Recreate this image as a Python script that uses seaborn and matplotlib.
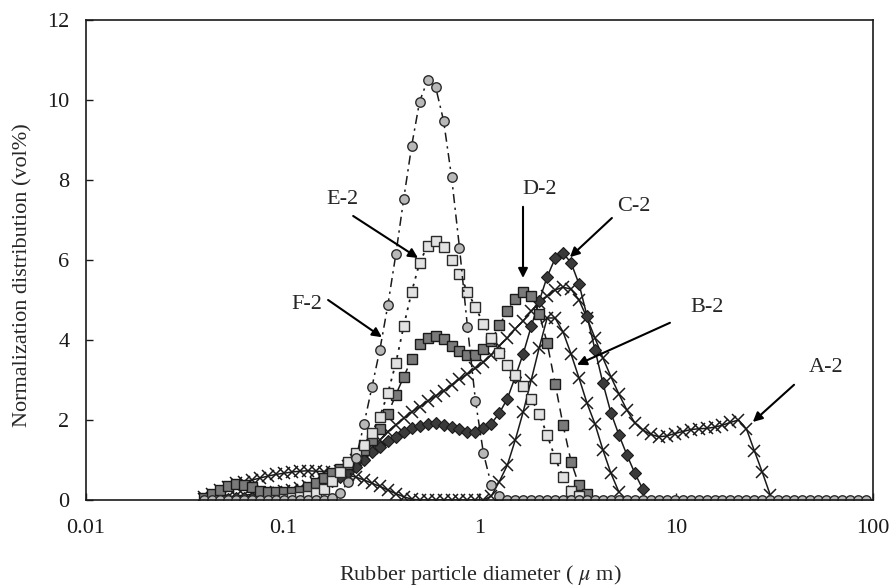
import matplotlib
matplotlib.use("Agg")
import matplotlib.pyplot as plt
import pandas as pd
import seaborn as sns

# Particle-size channels (um) of the analyser, 0.04 .. 92 um
diameter = [
    0.0400, 0.0439, 0.0482, 0.0529, 0.0581, 0.0638, 0.0700, 0.0769, 0.0844, 0.0926,
    0.1017, 0.1116, 0.1226, 0.1346, 0.1477, 0.1622, 0.1780, 0.1954, 0.2146, 0.2356,
    0.2586, 0.2839, 0.3117, 0.3421, 0.3756, 0.412, 0.452, 0.496, 0.545, 0.598,
    0.657, 0.721, 0.791, 0.869, 0.954, 1.047, 1.149, 1.261, 1.385, 1.520,
    1.669, 1.832, 2.010, 2.207, 2.423, 2.660, 2.920, 3.205, 3.519, 3.863,
    4.240, 4.655, 5.110, 5.610, 6.158, 6.760, 7.421, 8.147, 8.943, 9.817,
    10.78, 11.83, 12.99, 14.26, 15.65, 17.18, 18.86, 20.71, 22.73, 24.95,
    27.39, 30.07, 33.01, 36.24, 39.78, 43.67, 47.94, 52.62, 57.77, 63.41,
    69.61, 76.42, 83.89, 92.09,
]

# vol% per channel, each series starts at channel index *_start
a2_start = 0
a2 = [
    0.02, 0.04, 0.06, 0.08, 0.10, 0.12, 0.14, 0.16, 0.18, 0.20,
    0.23, 0.26, 0.30, 0.35, 0.42, 0.50, 0.60, 0.72, 0.85, 1.00,
    1.15, 1.30, 1.50, 1.71, 1.88, 2.04, 2.20, 2.33, 2.47, 2.60,
    2.73, 2.88, 3.02, 3.15, 3.29, 3.44, 3.63, 3.85, 4.05, 4.28,
    4.48, 4.72, 4.92, 5.10, 5.25, 5.32, 5.27, 5.00, 4.55, 4.05,
    3.55, 3.08, 2.65, 2.25, 1.93, 1.75, 1.64, 1.58, 1.60, 1.66,
    1.71, 1.76, 1.78, 1.79, 1.82, 1.87, 1.94, 2.00, 1.78, 1.23,
    0.69, 0.12,
]

b2_start = 0
b2 = [
    0.08, 0.15, 0.25, 0.33, 0.42, 0.46, 0.50, 0.55, 0.60, 0.64,
    0.67, 0.70, 0.72, 0.73, 0.72, 0.71, 0.69, 0.66, 0.62, 0.57,
    0.50, 0.42, 0.34, 0.25, 0.16, 0.08, 0.02, 0.0, 0.0, 0.0,
    0.0, 0.0, 0.0, 0.0, 0.0, 0.0, 0.10, 0.46, 0.87, 1.50,
    2.21, 3.00, 3.80, 4.55, 4.55, 4.20, 3.65, 3.05, 2.42, 1.90,
    1.25, 0.67, 0.20,
]

c2_start = 0
c2 = [
    0.0, 0.01, 0.02, 0.03, 0.04, 0.05, 0.06, 0.07, 0.08, 0.10,
    0.12, 0.15, 0.19, 0.24, 0.30, 0.38, 0.47, 0.58, 0.70, 0.83,
    1.00, 1.19, 1.33, 1.47, 1.58, 1.70, 1.79, 1.86, 1.90, 1.92,
    1.88, 1.83, 1.77, 1.71, 1.70, 1.79, 1.91, 2.17, 2.53, 3.08,
    3.66, 4.34, 4.97, 5.58, 6.04, 6.17, 5.93, 5.40, 4.60, 3.76,
    2.92, 2.18, 1.63, 1.13, 0.67, 0.27,
]

d2_start = 0
d2 = [
    0.06, 0.15, 0.25, 0.35, 0.39, 0.38, 0.33, 0.23, 0.20, 0.19,
    0.20, 0.20, 0.23, 0.32, 0.43, 0.56, 0.67, 0.77, 0.91, 1.07,
    1.26, 1.49, 1.77, 2.15, 2.63, 3.08, 3.52, 3.89, 4.04, 4.10,
    4.02, 3.85, 3.72, 3.62, 3.62, 3.77, 3.98, 4.37, 4.72, 5.02,
    5.19, 5.11, 4.66, 3.93, 2.91, 1.87, 0.96, 0.37, 0.14,
]

e2_start = 9
e2 = [
    0.0, 0.02, 0.04, 0.07, 0.10, 0.17, 0.27, 0.48, 0.70, 0.96,
    1.18, 1.38, 1.68, 2.08, 2.67, 3.42, 4.35, 5.20, 5.93, 6.36,
    6.48, 6.32, 6.01, 5.64, 5.21, 4.82, 4.41, 4.05, 3.67, 3.38,
    3.12, 2.86, 2.53, 2.15, 1.63, 1.05, 0.57, 0.23, 0.10,
]

f2_start = 0
f2 = [
    0.0, 0.0, 0.0, 0.0, 0.0, 0.0, 0.0, 0.0, 0.0, 0.0,
    0.0, 0.0, 0.0, 0.0, 0.0, 0.0, 0.06, 0.17, 0.44, 1.04,
    1.89, 2.82, 3.76, 4.87, 6.14, 7.53, 8.85, 9.96, 10.50, 10.33,
    9.48, 8.08, 6.31, 4.32, 2.48, 1.17, 0.37, 0.10, 0.0, 0.0,
    0.0, 0.0, 0.0, 0.0, 0.0, 0.0, 0.0, 0.0, 0.0, 0.0,
    0.0, 0.0, 0.0, 0.0, 0.0, 0.0, 0.0, 0.0, 0.0, 0.0,
    0.0, 0.0, 0.0, 0.0, 0.0, 0.0, 0.0, 0.0, 0.0, 0.0,
    0.0, 0.0, 0.0, 0.0, 0.0, 0.0, 0.0, 0.0, 0.0, 0.0,
    0.0, 0.0, 0.0, 0.0,
]

x_ticks = [0.01, 0.1, 1, 10, 100]
x_tick_labels = ["0.01", "0.1", "1", "10", "100"]
y_ticks = [0, 2, 4, 6, 8, 10, 12]

sns.set_theme(style="ticks")
plt.rcParams["font.family"] = ["Liberation Serif", "DejaVu Serif"]
plt.rcParams["mathtext.fontset"] = "stix"

fig = plt.figure(figsize=(8.94, 5.88), dpi=100)
ax = fig.add_axes([0.0962, 0.1497, 0.8803, 0.8163])
ax.set_xscale("log")

series = [
    ("A-2", a2, a2_start, dict(color="#1a1a1a", marker="x", markersize=8,
                               markeredgewidth=1.1, markeredgecolor="#1a1a1a",
                               linestyle="-", linewidth=1.1)),
    ("B-2", b2, b2_start, dict(color="#1a1a1a", marker="x", markersize=8,
                               markeredgewidth=1.1, markeredgecolor="#1a1a1a",
                               linestyle="-", linewidth=1.1)),
    ("C-2", c2, c2_start, dict(color="#1a1a1a", marker="D", markersize=5.8,
                               markerfacecolor="#3a3a3a", markeredgecolor="#1a1a1a",
                               markeredgewidth=0.8, linestyle="-", linewidth=1.1)),
    ("D-2", d2, d2_start, dict(color="#1a1a1a", marker="s", markersize=6.5,
                               markerfacecolor="#7a7a7a", markeredgecolor="#1a1a1a",
                               markeredgewidth=1.0, linestyle=(0, (6, 4)), linewidth=1.1)),
    ("E-2", e2, e2_start, dict(color="#1a1a1a", marker="s", markersize=6.5,
                               markerfacecolor="#e2e2e2", markeredgecolor="#2a2a2a",
                               markeredgewidth=1.0, linestyle=(0, (1.5, 3)), linewidth=1.3)),
    ("F-2", f2, f2_start, dict(color="#1a1a1a", marker="o", markersize=6.8,
                               markerfacecolor="#b8b8b8", markeredgecolor="#2a2a2a",
                               markeredgewidth=1.0, linestyle=(0, (6, 3, 1.5, 3)), linewidth=1.1)),
]

for name, vals, start, style in series:
    df = pd.DataFrame({"diameter": diameter[start:start + len(vals)], "vol": vals})
    sns.lineplot(data=df, x="diameter", y="vol", ax=ax, legend=False,
                 errorbar=None, sort=False, **style)

# curve labels with arrows (text pos, arrow tail, arrow tip) in data coords
labels = [
    ("F-2", (0.133, 4.88), (0.170, 5.00), (0.319, 4.07)),
    ("E-2", (0.200, 7.50), (0.228, 7.10), (0.487, 6.05)),
    ("D-2", (2.03, 7.75), (1.664, 7.33), (1.664, 5.55)),
    ("C-2", (6.10, 7.33), (4.71, 7.05), (2.88, 6.07)),
    ("B-2", (14.3, 4.80), (9.29, 4.43), (3.13, 3.38)),
    ("A-2", (57.7, 3.30), (39.7, 2.88), (24.5, 1.95)),
]
for text, pos, tail, tip in labels:
    ax.text(pos[0], pos[1], text, fontsize=16, ha="center", va="center")
    ax.annotate("", xy=tip, xytext=tail,
                arrowprops=dict(arrowstyle="-|>", color="black", lw=1.5,
                                mutation_scale=14, shrinkA=0, shrinkB=0))

ax.set_xlim(0.01, 100)
ax.set_ylim(0, 12)
ax.set_xticks(x_ticks)
ax.set_xticklabels(x_tick_labels)
ax.set_yticks(y_ticks)
ax.minorticks_off()
ax.tick_params(axis="both", direction="in", length=5, width=1.0,
               labelsize=16, colors="#1a1a1a")
ax.tick_params(axis="x", pad=14)
ax.tick_params(axis="y", pad=12)
for sp in ax.spines.values():
    sp.set_visible(True)
    sp.set_color("#1a1a1a")
    sp.set_linewidth(1.2)

ax.set_xlabel(r"Rubber particle diameter ( $\mu$ m)", fontsize=16)
ax.set_ylabel("Normalization distribution (vol%)", fontsize=16)
ax.xaxis.set_label_coords(0.5006, -0.132)
ax.yaxis.set_label_coords(-0.068, 0.469)

fig.savefig("out.png", dpi=100)
